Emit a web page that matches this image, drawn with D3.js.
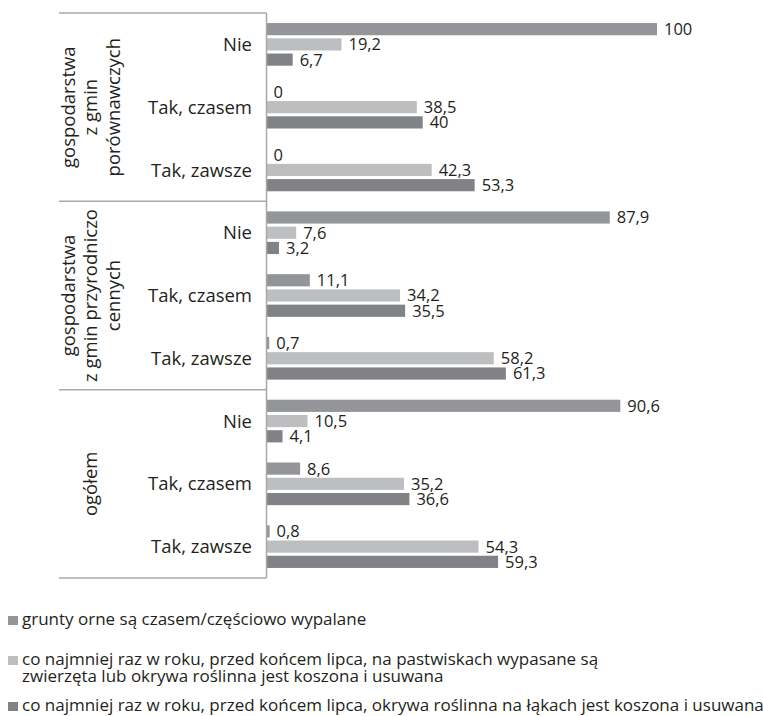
<!DOCTYPE html>
<html>
<head>
<meta charset="utf-8">
<script src="https://cdn.jsdelivr.net/npm/d3@7"></script>
<style>
  html, body { margin: 0; padding: 0; background: #fff; }
  svg { display: block; font-family: "Open Sans", sans-serif; }
</style>
</head>
<body>
<svg id="chart" width="763" height="716"></svg>
<script>
// ---- data ----
const groups = [
  ["gospodarstwa", "z gmin", "porównawczych"],
  ["gospodarstwa", "z gmin przyrodniczo", "cennych"],
  ["ogółem"]
];
const categories = ["Nie", "Tak, czasem", "Tak, zawsze"];
const seriesNames = [
  "grunty orne są czasem/częściowo wypalane",
  "co najmniej raz w roku, przed końcem lipca, na pastwiskach wypasane są\nzwierzęta lub okrywa roślinna jest koszona i usuwana",
  "co najmniej raz w roku, przed końcem lipca, okrywa roślinna na łąkach jest koszona i usuwana"
];
// values per row (group x category), in order of groups then categories
const seriesBurned  = [100, 0, 0, 87.9, 11.1, 0.7, 90.6, 8.6, 0.8];
const seriesPasture = [19.2, 38.5, 42.3, 7.6, 34.2, 58.2, 10.5, 35.2, 54.3];
const seriesMeadow  = [6.7, 40, 53.3, 3.2, 35.5, 61.3, 4.1, 36.6, 59.3];
const seriesColors = ["#939598", "#bcbec0", "#808285"];

const series = [seriesBurned, seriesPasture, seriesMeadow];
const textColor = "#231f20";
const lineColor = "#a7a9ac";

const svg = d3.select("#chart");

const rows = [];
groups.forEach((g, gi) => categories.forEach((c, ci) => rows.push({g: gi, c: ci, key: gi + "-" + ci})));

const plotTop = 13, plotBottom = 578, axisX = 266.5;
const y = d3.scaleBand().domain(rows.map(r => r.key)).range([plotTop, plotBottom]);
const yInner = d3.scaleBand().domain([0, 1, 2]).range([0, y.bandwidth()]).paddingInner(0.2).paddingOuter(0.66);
const x = d3.scaleLinear().domain([0, 100]).range([axisX, 657]);

// bars
rows.forEach((r, ri) => {
  const gRow = svg.append("g").attr("transform", `translate(0,${y(r.key)})`);
  series.forEach((s, si) => {
    const v = s[ri];
    gRow.append("rect")
      .attr("x", x(0))
      .attr("y", yInner(si))
      .attr("width", x(v) - x(0))
      .attr("height", yInner.bandwidth())
      .attr("fill", seriesColors[si]);
    gRow.append("text")
      .attr("x", x(v) + 7)
      .attr("y", yInner(si) + yInner.bandwidth() / 2)
      .attr("dy", "0.36em")
      .attr("font-size", 16.5)
      .attr("fill", textColor)
      .text(String(v).replace(".", ","));
  });
  // category label
  svg.append("text")
    .attr("x", 252)
    .attr("y", y(r.key) + y.bandwidth() / 2)
    .attr("dy", "0.36em")
    .attr("text-anchor", "end")
    .attr("font-size", 18.5)
    .attr("fill", textColor)
    .text(categories[r.c]);
});

// axis & separators
const gy0 = d3.scaleBand().domain(d3.range(groups.length)).range([plotTop, plotBottom]);
svg.append("line")
  .attr("x1", axisX).attr("x2", axisX)
  .attr("y1", plotTop).attr("y2", plotBottom)
  .attr("stroke", lineColor).attr("stroke-width", 1.5);
[...d3.range(groups.length).map(i => gy0(i)), plotBottom].forEach(yy => {
  svg.append("line")
    .attr("x1", 59).attr("x2", axisX)
    .attr("y1", yy).attr("y2", yy)
    .attr("stroke", lineColor).attr("stroke-width", 1.5);
});

// group labels (rotated)
groups.forEach((lines, gi) => {
  const cy = gy0(gi) + gy0.bandwidth() / 2;
  const n = lines.length;
  lines.forEach((ln, li) => {
    const cx = 90.5 + (li - (n - 1) / 2) * 22.5;
    svg.append("text")
      .attr("transform", `translate(${cx},${cy}) rotate(-90)`)
      .attr("text-anchor", "middle")
      .attr("dy", "0.36em")
      .attr("font-size", 18.5)
      .attr("fill", textColor)
      .text(ln);
  });
});

// legend
const legendY = [625, 665, 711];
seriesNames.forEach((name, i) => {
  const baseY = legendY[i];
  svg.append("rect")
    .attr("x", 8).attr("y", baseY - 9)
    .attr("width", 10).attr("height", 9)
    .attr("fill", seriesColors[i]);
  name.split("\n").forEach((ln, li) => {
    svg.append("text")
      .attr("x", 22)
      .attr("y", baseY + li * 17)
      .attr("font-size", 17)
      .attr("fill", textColor)
      .text(ln);
  });
});
</script>
</body>
</html>
